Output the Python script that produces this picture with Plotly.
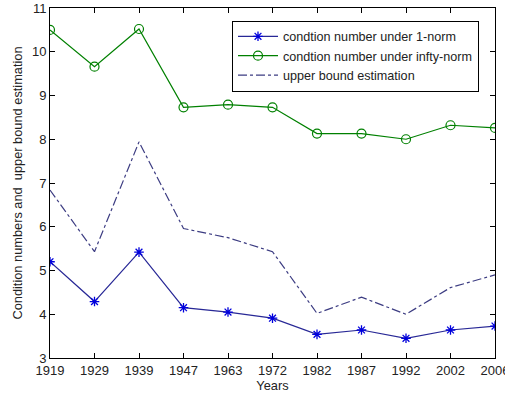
import plotly.graph_objects as go

years = ["1919", "1929", "1939", "1947", "1963", "1972", "1982", "1987", "1992", "2002", "2006"]
cond_1norm = [5.20, 4.29, 5.42, 4.15, 4.05, 3.91, 3.54, 3.64, 3.45, 3.64, 3.73]
cond_inftynorm = [10.50, 9.66, 10.52, 8.73, 8.79, 8.73, 8.13, 8.13, 8.00, 8.32, 8.26]
upper_bound = [6.84, 5.43, 7.94, 5.96, 5.75, 5.43, 4.02, 4.39, 4.00, 4.61, 4.90]
y_ticks = [3, 4, 5, 6, 7, 8, 9, 10, 11]

fig = go.Figure()
fig.add_trace(go.Scatter(
    x=years, y=cond_1norm, mode="lines+markers",
    name="condtion number under 1-norm",
    line=dict(color="rgb(40,40,150)", width=1.2),
    marker=dict(symbol="asterisk-open", size=8, color="rgb(0,0,220)", line=dict(width=1.3, color="rgb(0,0,220)")),
))
fig.add_trace(go.Scatter(
    x=years, y=cond_inftynorm, mode="lines+markers",
    name="condtion number under infty-norm",
    line=dict(color="rgb(0,128,0)", width=1.2),
    marker=dict(symbol="circle-open", size=9, color="rgb(0,128,0)", line=dict(width=1.2, color="rgb(0,128,0)")),
))
fig.add_trace(go.Scatter(
    x=years, y=upper_bound, mode="lines",
    name="upper bound estimation",
    line=dict(color="rgb(60,60,130)", width=1.2, dash="dashdot"),
))

axis_font = dict(family="Liberation Sans, Arial, sans-serif", size=13, color="#222")
title_font = dict(family="Liberation Sans, Arial, sans-serif", size=12.8, color="#222")
fig.update_layout(
    width=505, height=399,
    margin=dict(l=50, r=10, t=8, b=41),
    paper_bgcolor="white", plot_bgcolor="white",
    showlegend=True,
    legend=dict(
        x=0.409, y=0.964, xanchor="left", yanchor="top",
        bgcolor="white", bordercolor="black", borderwidth=1,
        font=dict(family="Liberation Sans, Arial, sans-serif", size=12.6, color="#222"),
        tracegroupgap=0, itemwidth=40,
    ),
    xaxis=dict(
        type="category", range=[0, len(years) - 1], automargin=False,
        showline=True, linecolor="black", linewidth=1, mirror="ticks",
        ticks="inside", ticklen=5, tickcolor="black",
        showgrid=False, zeroline=False,
        tickfont=axis_font,
        title=dict(text="Years", font=title_font, standoff=3),
    ),
    yaxis=dict(
        range=[3, 11], tickvals=y_ticks, automargin=False,
        showline=True, linecolor="black", linewidth=1, mirror="ticks",
        ticks="inside", ticklen=5, tickcolor="black",
        showgrid=False, zeroline=False,
        tickfont=axis_font,
        title=dict(text="Condition numbers and  upper bound estimation", font=title_font, standoff=6),
    ),
)
fig.write_html("out.html", config={"displayModeBar": False}, post_script="document.body.style.margin='0';")
